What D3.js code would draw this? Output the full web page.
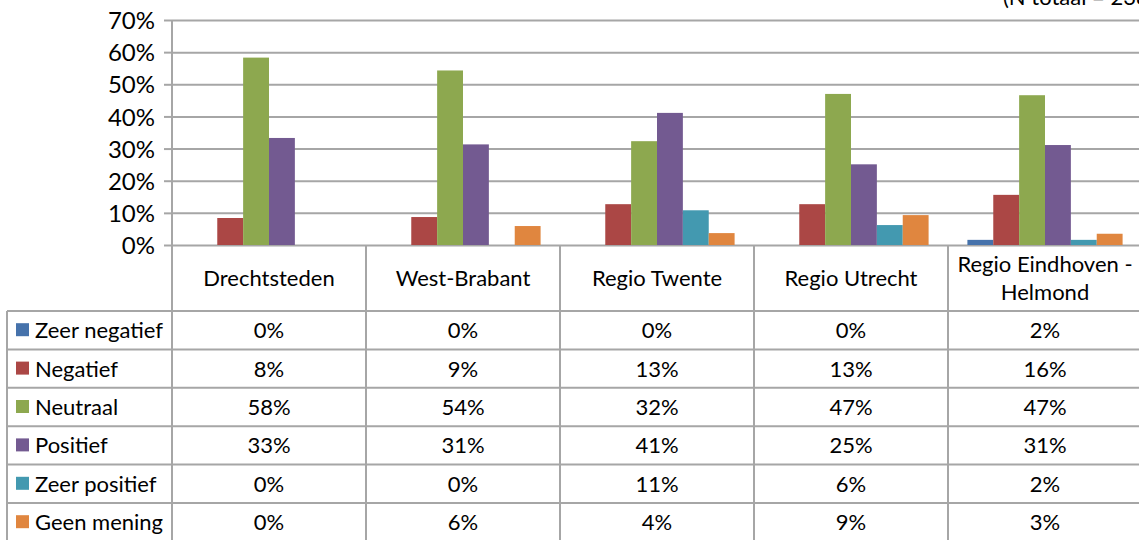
<!DOCTYPE html>
<html>
<head>
<meta charset="utf-8">
<script src="https://cdn.jsdelivr.net/npm/d3@7"></script>
<style>
  body { margin: 0; background: #fff; }
  svg { display: block; font-family: Lato, "Open Sans", sans-serif; }
</style>
</head>
<body>
<svg id="chart"></svg>
<script>
// data
const regions = ['Drechtsteden', 'West-Brabant', 'Regio Twente', 'Regio Utrecht', 'Regio Eindhoven - Helmond'];
const series = ['Zeer negatief', 'Negatief', 'Neutraal', 'Positief', 'Zeer positief', 'Geen mening'];
const colors = ['#4672ab', '#ab4745', '#8da84f', '#735a91', '#4399b0', '#e0863f'];
// bar values (fractions) per series, one per region
const zeerNegatief = [0.000, 0.000, 0.000, 0.000, 0.016];
const negatief     = [0.084, 0.087, 0.127, 0.127, 0.156];
const neutraal     = [0.583, 0.543, 0.323, 0.470, 0.466];
const positief     = [0.333, 0.313, 0.411, 0.251, 0.311];
const zeerPositief = [0.000, 0.000, 0.108, 0.062, 0.016];
const geenMening   = [0.000, 0.059, 0.037, 0.093, 0.035];
// labels shown in the data table
const tblZeerNegatief = ['0%', '0%', '0%', '0%', '2%'];
const tblNegatief     = ['8%', '9%', '13%', '13%', '16%'];
const tblNeutraal     = ['58%', '54%', '32%', '47%', '47%'];
const tblPositief     = ['33%', '31%', '41%', '25%', '31%'];
const tblZeerPositief = ['0%', '0%', '11%', '6%', '2%'];
const tblGeenMening   = ['0%', '6%', '4%', '9%', '3%'];
const yTicks = [0, 0.1, 0.2, 0.3, 0.4, 0.5, 0.6, 0.7];
const note = '(N totaal = 238)';

const values = [zeerNegatief, negatief, neutraal, positief, zeerPositief, geenMening];
const tblLabels = [tblZeerNegatief, tblNegatief, tblNeutraal, tblPositief, tblZeerPositief, tblGeenMening];

let width = 1139
let height = 540
let plotLeft = 172
let plotRight = 1142
let plotTop = 20
let base = 245
let tableLeft = 7
let headerBottom = 311
let rowH = 38.4
let gridColor = '#a6a6a6'
let tableFont = '22px'

let svg = d3.select('#chart').attr('width', width).attr('height', height)

let x = d3.scaleBand().domain(regions).range([plotLeft, plotRight]).padding(0)
let xInner = d3.scaleBand().domain(series)
  .range([x.bandwidth() * 0.1, x.bandwidth() * 0.9]).padding(0)
let y = d3.scaleLinear().domain([0, 0.7]).range([base, plotTop])

// note top right (cut off at the top edge, as in the original)
svg.append('text')
  .attr('x', 1003).attr('y', 5)
  .style('font-size', '22px').style('fill', '#000')
  .text(note)

// gridlines
let grid = svg.append('g')
  .attr('transform', `translate(${plotLeft},0)`)
  .call(d3.axisLeft(y).tickValues(yTicks).tickSize(-(width - plotLeft)).tickFormat(''))
grid.select('.domain').remove()
grid.selectAll('line').attr('stroke', gridColor).attr('stroke-width', 2)

// y axis with outward ticks
let yAxis = svg.append('g')
  .attr('transform', `translate(${plotLeft},0)`)
  .call(d3.axisLeft(y).tickValues(yTicks).tickSize(8).tickPadding(9).tickFormat(d3.format('.0%')))
yAxis.select('.domain').remove()
yAxis.selectAll('line').attr('stroke', gridColor).attr('stroke-width', 2)
yAxis.selectAll('text').style('font-size', '24px').style('fill', '#000').attr('dy', '0.36em')
  .style('font-family', 'Lato, sans-serif')

// bars
let groups = svg.append('g').selectAll('g')
  .data(series)
  .enter()
  .append('g')
  .attr('fill', (s, i) => colors[i])

groups.selectAll('rect')
  .data((s, i) => values[i].map((v, j) => ({ s: s, region: regions[j], v: v })))
  .enter()
  .append('rect')
  .attr('x', d => x(d.region) + xInner(d.s))
  .attr('width', xInner.bandwidth())
  .attr('y', d => y(d.v))
  .attr('height', d => base - y(d.v))

// data table
let rowTop = (i) => headerBottom + i * rowH
let table = svg.append('g')

// vertical cell borders
regions.concat(['end']).forEach((r, i) => {
  let xx = plotLeft + i * x.bandwidth()
  table.append('line')
    .attr('x1', xx).attr('x2', xx)
    .attr('y1', i === 0 ? plotTop : base).attr('y2', height)
    .attr('stroke', gridColor).attr('stroke-width', 2)
})
table.append('line')
  .attr('x1', tableLeft).attr('x2', tableLeft)
  .attr('y1', headerBottom).attr('y2', height)
  .attr('stroke', gridColor).attr('stroke-width', 2)

// horizontal row borders
series.concat(['end']).forEach((s, i) => {
  table.append('line')
    .attr('x1', tableLeft).attr('x2', width)
    .attr('y1', rowTop(i)).attr('y2', rowTop(i))
    .attr('stroke', gridColor).attr('stroke-width', 2)
})

// header labels
regions.forEach(r => {
  let cx = x(r) + x.bandwidth() / 2
  let parts = r === 'Regio Eindhoven - Helmond' ? ['Regio Eindhoven -', 'Helmond'] : [r]
  let mid = (base + headerBottom) / 2
  parts.forEach((p, k) => {
    table.append('text')
      .attr('x', cx)
      .attr('y', mid + (k - (parts.length - 1) / 2) * 28)
      .attr('dy', '0.36em')
      .attr('text-anchor', 'middle')
      .style('font-size', tableFont)
      .text(p)
  })
})

// rows: legend key + values
series.forEach((s, i) => {
  let cy = rowTop(i) + rowH / 2
  table.append('rect')
    .attr('x', 16).attr('y', cy - 7)
    .attr('width', 13).attr('height', 13)
    .attr('fill', colors[i])
  table.append('text')
    .attr('x', 35).attr('y', cy).attr('dy', '0.36em')
    .style('font-size', tableFont)
    .text(s)
  regions.forEach((r, j) => {
    table.append('text')
      .attr('x', x(r) + x.bandwidth() / 2)
      .attr('y', cy).attr('dy', '0.36em')
      .attr('text-anchor', 'middle')
      .style('font-size', tableFont)
      .text(tblLabels[i][j])
  })
})
</script>
</body>
</html>
